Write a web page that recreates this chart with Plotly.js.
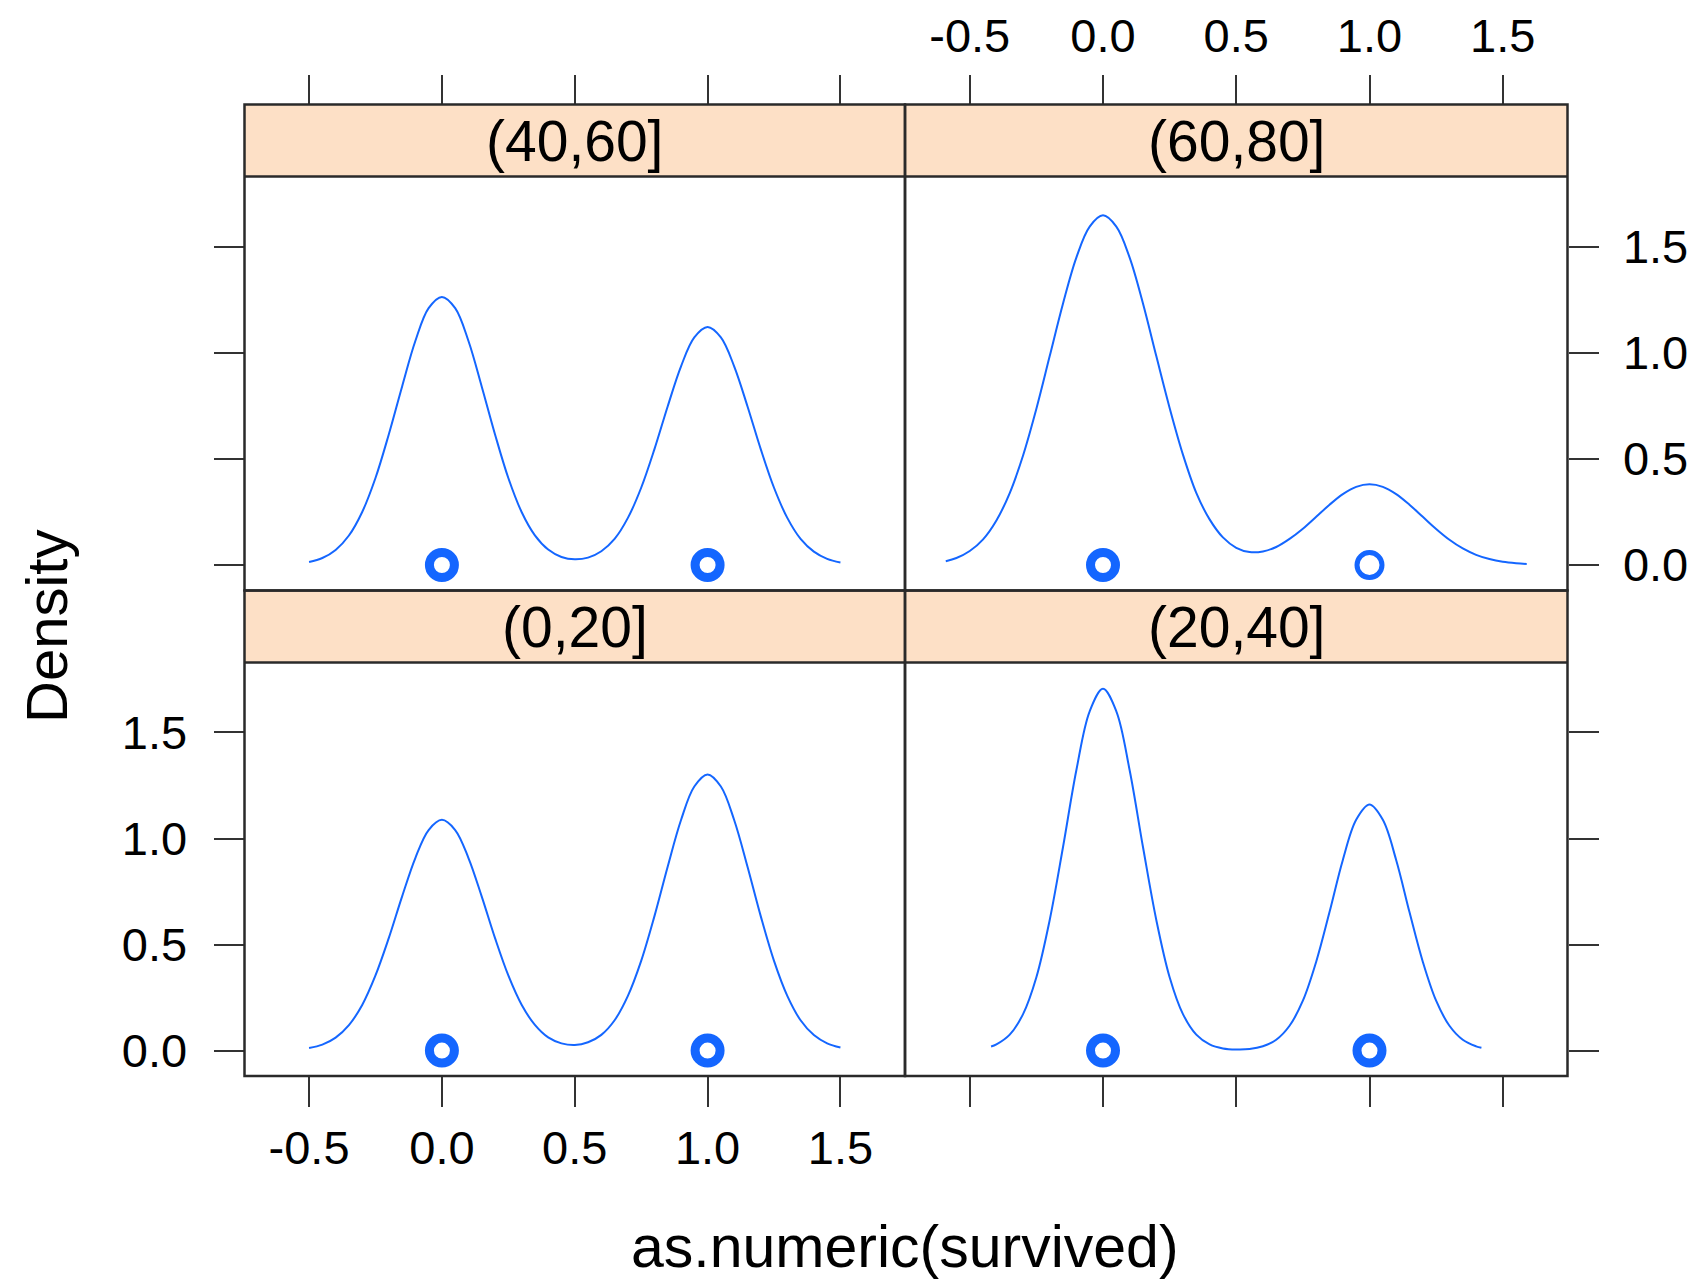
<!DOCTYPE html>
<html>
<head>
<meta charset="utf-8">
<script src="https://cdn.plot.ly/plotly-3.0.1.min.js"></script>
<style>
  html, body { margin: 0; padding: 0; background: #ffffff; }
  #chart { width: 1696px; height: 1280px; }
</style>
</head>
<body>
<div id="chart"></div>
<script>
// ---------------- data ----------------
var panelLabels = ['(40,60]', '(60,80]', '(0,20]', '(20,40]'];

// (40,60] – top left
var xTL = [-0.5, -0.45, -0.4, -0.35, -0.3, -0.25, -0.2, -0.15, -0.1, -0.05, 0,
           0.05, 0.1, 0.15, 0.2, 0.25, 0.3, 0.35, 0.4, 0.45, 0.5,
           0.55, 0.6, 0.65, 0.7, 0.75, 0.8, 0.85, 0.9, 0.95, 1.0,
           1.05, 1.1, 1.15, 1.2, 1.25, 1.3, 1.35, 1.4, 1.45, 1.5];
var densTL = [0.014, 0.033, 0.071, 0.139, 0.25, 0.41, 0.615, 0.84, 1.055, 1.21, 1.263,
              1.21, 1.055, 0.84, 0.615, 0.41, 0.25, 0.14, 0.073, 0.038, 0.027,
              0.035, 0.065, 0.123, 0.222, 0.364, 0.546, 0.748, 0.936, 1.072, 1.121,
              1.072, 0.936, 0.748, 0.546, 0.364, 0.222, 0.123, 0.063, 0.029, 0.012];

// (60,80] – top right
var xTR = [-0.59, -0.55, -0.5, -0.45, -0.4, -0.35, -0.3, -0.25, -0.2, -0.15, -0.1, -0.05, 0,
           0.05, 0.1, 0.15, 0.2, 0.25, 0.3, 0.35, 0.4, 0.45, 0.5,
           0.55, 0.6, 0.65, 0.7, 0.75, 0.8, 0.85, 0.9, 0.95, 1.0,
           1.05, 1.1, 1.15, 1.2, 1.25, 1.3, 1.35, 1.4, 1.45, 1.5, 1.55, 1.59];
var densTR = [0.018, 0.033, 0.066, 0.121, 0.21, 0.339, 0.516, 0.736, 0.984, 1.232, 1.448, 1.594, 1.647,
              1.594, 1.448, 1.232, 0.984, 0.74, 0.52, 0.34, 0.215, 0.13, 0.081,
              0.061, 0.064, 0.085, 0.123, 0.171, 0.227, 0.284, 0.334, 0.368, 0.38,
              0.368, 0.334, 0.284, 0.227, 0.17, 0.119, 0.078, 0.048, 0.028, 0.015, 0.008, 0.005];

// (0,20] – bottom left
var xBL = [-0.5, -0.45, -0.4, -0.35, -0.3, -0.25, -0.2, -0.15, -0.1, -0.05, 0,
           0.05, 0.1, 0.15, 0.2, 0.25, 0.3, 0.35, 0.4, 0.45, 0.5,
           0.55, 0.6, 0.65, 0.7, 0.75, 0.8, 0.85, 0.9, 0.95, 1.0,
           1.05, 1.1, 1.15, 1.2, 1.25, 1.3, 1.35, 1.4, 1.45, 1.5];
var densBL = [0.012, 0.028, 0.061, 0.12, 0.215, 0.354, 0.53, 0.726, 0.908, 1.04, 1.088,
              1.04, 0.908, 0.726, 0.53, 0.354, 0.216, 0.121, 0.062, 0.034, 0.026,
              0.039, 0.074, 0.143, 0.258, 0.423, 0.634, 0.868, 1.087, 1.245, 1.302,
              1.245, 1.087, 0.868, 0.634, 0.423, 0.258, 0.143, 0.073, 0.034, 0.014];

// (20,40] – bottom right
var xBR = [-0.42, -0.4, -0.35, -0.3, -0.25, -0.2, -0.15, -0.1, -0.05, 0,
           0.05, 0.1, 0.15, 0.2, 0.25, 0.3, 0.35, 0.4, 0.45, 0.5,
           0.55, 0.6, 0.65, 0.7, 0.75, 0.8, 0.85, 0.9, 0.95, 1.0,
           1.05, 1.1, 1.15, 1.2, 1.25, 1.3, 1.35, 1.4, 1.42];
var densBR = [0.019, 0.029, 0.075, 0.172, 0.346, 0.616, 0.96, 1.322, 1.6, 1.706,
              1.6, 1.322, 0.96, 0.616, 0.346, 0.172, 0.075, 0.029, 0.01, 0.005,
              0.007, 0.02, 0.051, 0.117, 0.235, 0.419, 0.653, 0.899, 1.088, 1.16,
              1.088, 0.899, 0.653, 0.419, 0.235, 0.117, 0.051, 0.02, 0.013];

var pointsX = [0, 1];
var pointsY = [0, 0];

var xTickVals = [-0.5, 0, 0.5, 1, 1.5];
var xTickText = ['-0.5', '0.0', '0.5', '1.0', '1.5'];
var yTickVals = [0, 0.5, 1, 1.5];
var yTickText = ['0.0', '0.5', '1.0', '1.5'];

var xTitle = 'as.numeric(survived)';
var yTitle = 'Density';

// ---------------- layout geometry ----------------
var W = 1696, H = 1280;
function fx(px) { return px / W; }
function fy(py) { return 1 - py / H; }

var Lpx = 244.5, Mpx = 905, Rpx = 1567.5;
var S1top = 104.5, P1top = 176.5, P1bot = 590.5, P2top = 662.5, P2bot = 1076;

var xRange = [-0.743, 1.743];
var yRange = [-0.12, 1.83];

var lineColor = '#1466ff';
var stripColor = '#fde0c6';
var frameColor = '#2a2a2a';
var fontFam = 'Liberation Sans, Arial, Helvetica, sans-serif';

var tickFont = { family: fontFam, size: 47, color: '#000000' };

function baseAxis(extra) {
  var a = {
    range: xRange,
    showgrid: false, zeroline: false, showline: false,
    ticks: 'outside', ticklen: 30, tickwidth: 2, tickcolor: '#333333',
    tickfont: tickFont, tickmode: 'array',
    ticklabelstandoff: 10,
    fixedrange: true
  };
  for (var k in extra) a[k] = extra[k];
  return a;
}

var leftDom = [fx(Lpx), fx(Mpx)];
var rightDom = [fx(Mpx), fx(Rpx)];
var topDom = [fy(P1bot), fy(P1top)];
var botDom = [fy(P2bot), fy(P2top)];

var layout = {
  width: W, height: H,
  margin: { l: 0, r: 0, t: 0, b: 0, pad: 0 },
  paper_bgcolor: '#ffffff', plot_bgcolor: 'rgba(0,0,0,0)',
  showlegend: false,
  font: { family: fontFam, color: '#000000' },
  // top-left (40,60]
  xaxis: baseAxis({ domain: leftDom, anchor: 'free', position: fy(S1top), side: 'top',
                    tickvals: xTickVals, ticktext: xTickText, showticklabels: false }),
  yaxis: baseAxis({ domain: topDom, range: yRange, anchor: 'x', side: 'left',
                    tickvals: yTickVals, ticktext: yTickText, showticklabels: false }),
  // top-right (60,80]
  xaxis2: baseAxis({ domain: rightDom, anchor: 'free', position: fy(S1top), side: 'top',
                     tickvals: xTickVals, ticktext: xTickText, showticklabels: true,
                     ticklabelstandoff: 4 }),
  yaxis2: baseAxis({ domain: topDom, range: yRange, anchor: 'x2', side: 'right',
                     tickvals: yTickVals, ticktext: yTickText, showticklabels: true,
                     ticklabelstandoff: 15 }),
  // bottom-left (0,20]
  xaxis3: baseAxis({ domain: leftDom, anchor: 'y3', side: 'bottom',
                     tickvals: xTickVals, ticktext: xTickText, showticklabels: true,
                     ticklabelstandoff: 1 }),
  yaxis3: baseAxis({ domain: botDom, range: yRange, anchor: 'x3', side: 'left',
                     tickvals: yTickVals, ticktext: yTickText, showticklabels: true,
                     ticklabelstandoff: 17 }),
  // bottom-right (20,40]
  xaxis4: baseAxis({ domain: rightDom, anchor: 'y4', side: 'bottom',
                     tickvals: xTickVals, ticktext: xTickText, showticklabels: false }),
  yaxis4: baseAxis({ domain: botDom, range: yRange, anchor: 'x4', side: 'right',
                     tickvals: yTickVals, ticktext: yTickText, showticklabels: false }),
  shapes: [],
  annotations: []
};

// strips, frames and strip labels
var panels = [
  { xd: leftDom, sTop: S1top, pTop: P1top, pBot: P1bot, label: panelLabels[0] },
  { xd: rightDom, sTop: S1top, pTop: P1top, pBot: P1bot, label: panelLabels[1] },
  { xd: leftDom, sTop: P1bot, pTop: P2top, pBot: P2bot, label: panelLabels[2] },
  { xd: rightDom, sTop: P1bot, pTop: P2top, pBot: P2bot, label: panelLabels[3] }
];
panels.forEach(function (p) {
  layout.shapes.push({ type: 'rect', xref: 'paper', yref: 'paper', layer: 'below',
    x0: p.xd[0], x1: p.xd[1], y0: fy(p.pTop), y1: fy(p.sTop),
    fillcolor: stripColor, line: { width: 0 } });
  layout.shapes.push({ type: 'line', xref: 'paper', yref: 'paper', layer: 'above',
    x0: p.xd[0], x1: p.xd[1], y0: fy(p.pTop), y1: fy(p.pTop),
    line: { color: frameColor, width: 2.5 } });
  layout.shapes.push({ type: 'rect', xref: 'paper', yref: 'paper', layer: 'above',
    x0: p.xd[0], x1: p.xd[1], y0: fy(p.pBot), y1: fy(p.sTop),
    fillcolor: 'rgba(0,0,0,0)', line: { color: frameColor, width: 2.5 } });
  layout.annotations.push({ xref: 'paper', yref: 'paper',
    x: (p.xd[0] + p.xd[1]) / 2, y: (fy(p.sTop) + fy(p.pTop)) / 2,
    xanchor: 'center', yanchor: 'middle', showarrow: false,
    text: p.label, font: { family: fontFam, size: 57, color: '#000000' } });
});

layout.annotations.push({ xref: 'paper', yref: 'paper', x: fx(905), y: fy(1247),
  xanchor: 'center', yanchor: 'middle', showarrow: false, text: xTitle,
  font: { family: fontFam, size: 59, color: '#000000' } });
layout.annotations.push({ xref: 'paper', yref: 'paper', x: fx(46), y: fy(627),
  xanchor: 'center', yanchor: 'middle', showarrow: false, text: yTitle, textangle: -90,
  font: { family: fontFam, size: 58, color: '#000000' } });

// ---------------- traces ----------------
function curve(xs, ys, xa, ya) {
  return { type: 'scatter', mode: 'lines', x: xs, y: ys, xaxis: xa, yaxis: ya,
    line: { color: lineColor, width: 2, shape: 'spline', smoothing: 1 },
    hoverinfo: 'skip', cliponaxis: true };
}
function pts(xa, ya, widths) {
  return { type: 'scatter', mode: 'markers', x: pointsX, y: pointsY, xaxis: xa, yaxis: ya,
    marker: { symbol: 'circle-open', size: 25, color: lineColor,
              line: { color: lineColor, width: widths } },
    hoverinfo: 'skip', cliponaxis: false };
}

var data = [
  curve(xTL, densTL, 'x', 'y'),   pts('x', 'y', 9),
  curve(xTR, densTR, 'x2', 'y2'), pts('x2', 'y2', [9, 5]),
  curve(xBL, densBL, 'x3', 'y3'), pts('x3', 'y3', 9),
  curve(xBR, densBR, 'x4', 'y4'), pts('x4', 'y4', 9)
];

Plotly.newPlot('chart', data, layout, { displayModeBar: false, staticPlot: true });
</script>
</body>
</html>
